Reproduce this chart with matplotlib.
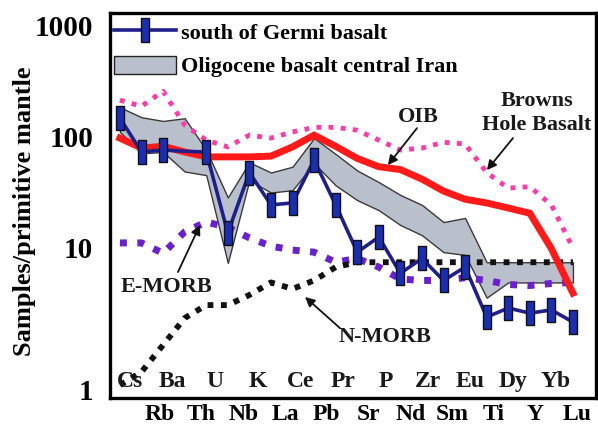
import matplotlib
matplotlib.use("Agg")
import matplotlib.pyplot as plt
from matplotlib.lines import Line2D
from matplotlib.patches import Patch
from matplotlib.ticker import NullLocator

plt.rcParams['font.family'] = ['Liberation Serif', 'DejaVu Serif']
plt.rcParams['font.weight'] = 'bold'
plt.rcParams['axes.labelweight'] = 'bold'

# data (normalised to primitive mantle)
elements = ["Cs", "Rb", "Ba", "Th", "U", "Nb", "K", "La", "Ce", "Pb", "Pr",
            "Sr", "P", "Nd", "Zr", "Sm", "Eu", "Ti", "Dy", "Y", "Yb", "Lu"]
germi = [145, 72, 75, 73, 72, 13.4, 47, 24, 25, 61, 24,
         9.0, 12.3, 5.8, 7.9, 5.0, 6.6, 2.34, 2.82, 2.54, 2.71, 2.11]
oligo_high = [182, 148, 137, 145, 75, 28, 58, 47, 53, 96, 69,
              49, 38.5, 29.5, 24, 16.8, 18.3, 7.3, 7.3, 7.3, 7.3, 7.3]
oligo_low = [109, 70, 72, 48, 44.5, 7.2, 40, 31, 32.6, 57, 36,
             26.5, 21.5, 15.8, 12.8, 9.0, 8.5, 3.5, 4.8, 4.8, 4.8, 4.8]
browns_hole = [211, 186, 254, 126, 92, 80, 102, 96, 109, 120, 120,
               113, 92, 75, 78, 88, 85, 47, 34, 35, 24, 9.8]
oib = [96, 78, 81, 72, 65, 65, 65, 66, 80, 102, 81,
       63, 53, 50, 41, 32, 27, 25, 22.5, 20.2, 9.7, 3.85]
e_morb = [10.9, 10.9, 8.8, 13.7, 16.8, 15.1, 12.1, 10.2, 9.4, 9.0, 7.3,
          7.9, 6.6, 5.15, 5.0, 5.0, 5.3, 5.0, 4.6, 4.5, 4.7, 4.8]
n_morb = [0.57, 0.75, 1.31, 2.29, 3.0, 3.0, 3.7, 4.8, 4.2, 5.0, 6.6,
          7.3, 7.3, 7.3, 7.3, 7.3, 7.3, 7.3, 7.3, 7.3, 7.3, 7.3]

x = list(range(len(elements)))

fig = plt.figure(figsize=(5.98, 4.25), dpi=100)
ax = fig.add_axes([0.184, 0.0635, 0.8127, 0.9055])

# band
ax.fill_between(x, oligo_low, oligo_high, facecolor='#b9c0cc',
                edgecolor='#3a3a3a', lw=1.0, zorder=1)

dots = (0, (1, 1.5))
ax.plot(x, browns_hole, color='#ff3aa6', lw=3.5, linestyle=dots,
        dash_capstyle='butt', zorder=2)
ax.plot(x, e_morb, color='#6a20d0', lw=5, linestyle=dots,
        dash_capstyle='butt', zorder=3)
ax.plot(x, n_morb, color='#111111', lw=4.2, linestyle=(0, (1, 1.3)),
        dash_capstyle='butt', zorder=3)
ax.plot(x, oib, color='#ff1a1a', lw=5, solid_joinstyle='miter', zorder=4)

bar = [(-0.16, -0.5), (0.16, -0.5), (0.16, 0.5), (-0.16, 0.5), (-0.16, -0.5)]
blue_style = dict(color='#1f1f8c', lw=2.6, marker=bar, ms=17,
                  mfc='#1a2db5', mec='#111111', mew=1.0)
ax.plot(x, germi, markevery=[i for i in x if i != 3], zorder=5, **blue_style)

ax.set_yscale('log')
ax.set_ylim(0.436, 1283)
ax.set_xlim(-0.46, 22.07)
ax.yaxis.set_minor_locator(NullLocator())
ax.set_yticks([0.515, 10, 100, 1000], ['1', '10', '100', '1000'])
ax.tick_params(axis='y', length=0, pad=12, labelsize=21)

# element labels: odd ones below the axes, even ones inside
ax.set_xticks([0.88 + 0.9675 * i for i in x[1::2]], elements[1::2])
ax.tick_params(axis='x', length=0, pad=4, labelsize=17)
for i in x[0::2]:
    ax.text(0.46 + 0.987 * i, 0.61, elements[i], fontsize=17,
            ha='center', va='center', color='#1a1a1a', zorder=6)

for s in ax.spines.values():
    s.set_linewidth(2.4)

ax.set_ylabel('Samples/primitive mantle', fontsize=19, fontweight='bold')
ax.yaxis.set_label_coords(-0.152, 0.486)

handles = [Line2D([], [], **blue_style),
           Patch(facecolor='#b9c0cc', edgecolor='#222222', lw=1.0)]
ax.legend(handles, ['south of Germi basalt', 'Oligocene basalt central Iran'],
          loc='upper left', bbox_to_anchor=(0.008, 0.977), frameon=False,
          fontsize=16, numpoints=1, handlelength=2.8, handleheight=0.85,
          handletextpad=0.2, labelspacing=0.55, borderpad=0, borderaxespad=0)

# annotations
arrow = dict(arrowstyle='-|>', color='#111111', lw=1.3, mutation_scale=14,
             shrinkA=0, shrinkB=0)
txt = dict(fontsize=16, ha='center', va='center', color='#1a1a1a')
ax.text(13.82, 148, 'OIB', **txt)
ax.annotate('', xy=(12.42, 54.8), xytext=(13.77, 118), arrowprops=arrow)
ax.text(19.33, 161, 'Browns\nHole Basalt', linespacing=1.3, **txt)
ax.annotate('', xy=(17.01, 49.4), xytext=(18.22, 96), arrowprops=arrow)
ax.text(2.18, 4.36, 'E-MORB', **txt)
ax.annotate('', xy=(3.71, 15.8), xytext=(2.69, 5.96), arrowprops=arrow)
ax.text(12.29, 1.55, 'N-MORB', **txt)
ax.annotate('', xy=(8.58, 3.55), xytext=(10.2, 1.86), arrowprops=arrow)

fig.savefig('out.png', dpi=100)
